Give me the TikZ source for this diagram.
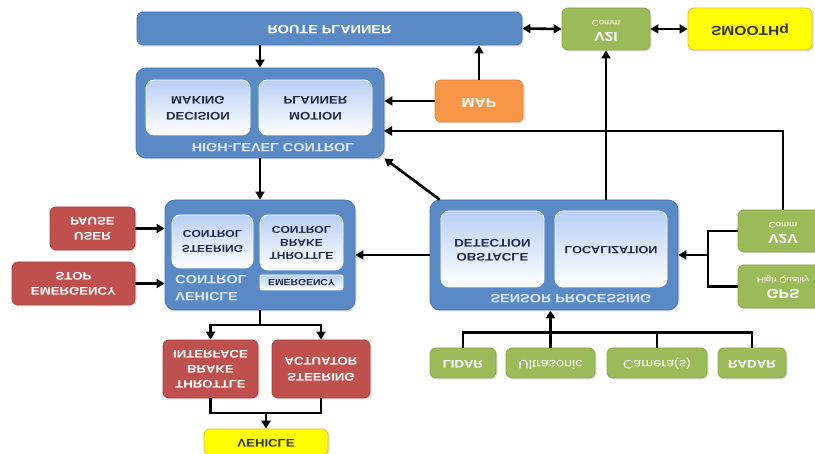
\documentclass[tikz,border=0pt]{standalone}
\usepackage{fontspec}
\setmainfont{Liberation Sans}
\usepackage{graphicx}
\usetikzlibrary{arrows.meta,shadows}

\definecolor{blk}{HTML}{5A8AC6}
\definecolor{blkdark}{HTML}{4A76AE}
\definecolor{redb}{HTML}{C0504D}
\definecolor{redd}{HTML}{A8403D}
\definecolor{grn}{HTML}{9BBB59}
\definecolor{grnd}{HTML}{88A84A}
\definecolor{org}{HTML}{F79646}
\definecolor{orgd}{HTML}{E5823A}
\definecolor{ylw}{HTML}{FFFF00}
\definecolor{ylwd}{HTML}{F5B041}
\definecolor{navy}{HTML}{1F2A44}
\definecolor{pale}{HTML}{DCE6F2}
\definecolor{innertop}{HTML}{B8CFF4}

% labels are printed upside down (mirrored top to bottom), slightly widened
\newcommand\fl[1]{\scalebox{1.2}[-1]{\begin{tabular}{@{}c@{}}#1\end{tabular}}}
\newcommand\fs[2]{\fontsize{#1}{#2}\selectfont}

\tikzset{
  x=1pt, y=-1pt,
  base/.style={draw, line width=0.8pt, rounded corners=6pt, font=\bfseries\fs{11}{14},
    inner sep=0pt, drop shadow={shadow xshift=1.5pt, shadow yshift=-1.5pt, opacity=0.25}},
  bluebox/.style={base, fill=blk, draw=blkdark, text=pale, rounded corners=10pt},
  flatblue/.style={base, fill=blk, draw=blkdark, text=white},
  inner/.style={draw=white, line width=0.8pt, rounded corners=8pt, top color=innertop, bottom color=white,
    text=navy, font=\bfseries\fs{11}{16}, inner sep=0pt},
  redbox/.style={base, fill=redb, draw=redd, text=white},
  grnbox/.style={base, fill=grn, draw=grnd, text=white},
  orgbox/.style={base, fill=org, draw=orgd, text=white},
  ylwbox/.style={base, fill=ylw, draw=ylwd, text=black!80},
  biglabel/.style={text=pale, font=\bfseries\fs{12}{14}, inner sep=0pt},
  arr/.style={line width=2.6pt, -{Triangle[length=8pt,width=9pt]}},
  darr/.style={line width=2.6pt, {Triangle[length=8pt,width=9pt]}-{Triangle[length=8pt,width=9pt]}},
  ln/.style={line width=2.6pt},
}

\begin{document}
\begin{tikzpicture}
\useasboundingbox (0,0) rectangle (815,454);

% top row
\node[flatblue, minimum width=385, minimum height=33, font=\bfseries\fs{12}{14}] (rp) at (329.5,28.5) {\fl{ROUTE PLANNER}};
\node[grnbox, minimum width=88, minimum height=42] (v2i) at (606,29) {\fl{{\fs{13}{14}V2I}\\[-2pt]{\fs{8}{9}\mdseries Comm}}};
\node[ylwbox, minimum width=124, minimum height=42, font=\bfseries\fs{13}{14}] (smooth) at (750,29) {\fl{SMOOTHq}};

% high-level control
\node[bluebox, minimum width=248, minimum height=90] (hlc) at (260,113) {};
\node[inner, minimum width=104, minimum height=55] (dm) at (198,107.5) {\fl{DECISION\\MAKING}};
\node[inner, minimum width=113, minimum height=55] (mp) at (315.5,107.5) {\fl{MOTION\\PLANNER}};
\node[biglabel] (hlcl) at (273,146) {\fl{HIGH-LEVEL CONTROL}};
\node[orgbox, minimum width=88, minimum height=42, font=\bfseries\fs{13}{14}] (map) at (479,101) {\fl{MAP}};

% vehicle control
\node[bluebox, minimum width=190, minimum height=110] (vc) at (260,255) {};
\node[inner, minimum width=81, minimum height=53, font=\bfseries\fs{10}{15}] (sc) at (212.5,241.5) {\fl{STEERING\\CONTROL}};
\node[inner, minimum width=83, minimum height=55, font=\bfseries\fs{10}{13}] (tbc) at (301.5,242.5) {\fl{THROTTLE\\BRAKE\\CONTROL}};
\node[inner, rounded corners=2pt, minimum width=83, minimum height=15, font=\bfseries\fs{9}{10}] (em) at (301.5,282.5) {\scalebox{1.15}[-1]{EMERGENCY}};
\node[biglabel, font=\bfseries\fs{12}{17}] (vcl) at (211,287) {\scalebox{1.2}[-1]{\begin{tabular}{@{}l@{}}VEHICLE\\CONTROL\end{tabular}}};

\node[redbox, minimum width=85, minimum height=43, font=\bfseries\fs{11}{15}] (user) at (92.5,228.5) {\fl{USER\\PAUSE}};
\node[redbox, minimum width=123, minimum height=43, font=\bfseries\fs{11}{15}] (estop) at (73.5,283.5) {\fl{EMERGENCY\\STOP}};

% sensor processing
\node[bluebox, minimum width=248, minimum height=110] (sp) at (554,255) {};
\node[inner, minimum width=103, minimum height=76, font=\bfseries\fs{11}{14}] (od) at (492.5,249) {\fl{OBSTACLE\\DETECTION}};
\node[inner, minimum width=112, minimum height=76, font=\bfseries\fs{10.5}{14}] (loc) at (611,249) {\fl{LOCALIZATION}};
\node[biglabel] (spl) at (571,297) {\fl{SENSOR PROCESSING}};

\node[grnbox, minimum width=90, minimum height=42] (v2v) at (783,231) {\fl{{\fs{13}{14}V2V}\\[-2pt]{\fs{8}{9}\mdseries Comm}}};
\node[grnbox, minimum width=90, minimum height=43] (gps) at (783,286.5) {\fl{{\fs{13}{14}GPS}\\[-2pt]{\fs{8}{9}\mdseries High Quality}}};

% sensors
\node[grnbox, minimum width=66, minimum height=30, font=\bfseries\fs{11}{12}] (lidar) at (463,363) {\fl{LIDAR}};
\node[grnbox, minimum width=89, minimum height=30, font=\mdseries\fs{12}{13}] (us) at (550.5,363) {\fl{Ultrasonic}};
\node[grnbox, minimum width=100, minimum height=30, font=\mdseries\fs{12}{13}] (cam) at (657,363) {\fl{Camera(s)}};
\node[grnbox, minimum width=68, minimum height=30, font=\bfseries\fs{11}{12}] (radar) at (752,363) {\fl{RADAR}};

% actuators
\node[redbox, minimum width=95, minimum height=58, font=\bfseries\fs{11}{15}] (tbi) at (210.5,369) {\fl{THROTTLE\\BRAKE\\INTERFACE}};
\node[redbox, minimum width=98, minimum height=58, font=\bfseries\fs{11}{16}] (sa) at (321,369) {\fl{STEERING\\ACTUATOR}};
\node[ylwbox, minimum width=124, minimum height=26, font=\bfseries\fs{11}{12}] (veh) at (266,442) {\fl{VEHICLE}};

% connectors
\draw[darr] (rp.east) -- (v2i.west);
\draw[darr] (v2i.east) -- (smooth.west);
\draw[arr] (rp.south -| hlc.north) -- (hlc.north);
\draw[arr] (map.north) -- (map.north |- rp.south);
\draw[arr] (map.west) -- (map.west -| hlc.east);
\coordinate (hlcin) at (384,131);
\draw[arr] (v2v.north) |- (hlcin);
\draw[arr] (v2i.south |- sp.north) -- (v2i.south);
\draw[arr] (sp.north west) ++(10,0) -- (hlc.south east);
\draw[arr] (hlc.south) -- (vc.north);
\draw[arr] (user.east) -- (user.east -| vc.west);
\draw[arr] (estop.east) -- (estop.east -| vc.west);
\draw[arr] (sp.west) -- (sp.west -| vc.east);

\coordinate (join) at (708,255);
\draw[ln] (v2v.west) -| (join);
\draw[ln] (gps.west) -| (join);
\draw[arr] (join) -- (sp.east);

\coordinate (bus) at (550.5,333);
\draw[ln] (lidar.north) -- ++(0,-15) -| (radar.north);
\draw[ln] (cam.north) -- (cam.north |- bus);
\draw[arr] (us.north) -- (us.north |- sp.south);

\coordinate (split) at (260,325);
\draw[ln] (vc.south) -- (split);
\draw[arr] (split) -| (tbi.north);
\draw[arr] (split) -| (sa.north);

\coordinate (merge) at (266,413);
\draw[ln] (tbi.south) |- (merge);
\draw[ln] (sa.south) |- (merge);
\draw[arr] (merge) -- (veh.north);
\end{tikzpicture}
\end{document}
